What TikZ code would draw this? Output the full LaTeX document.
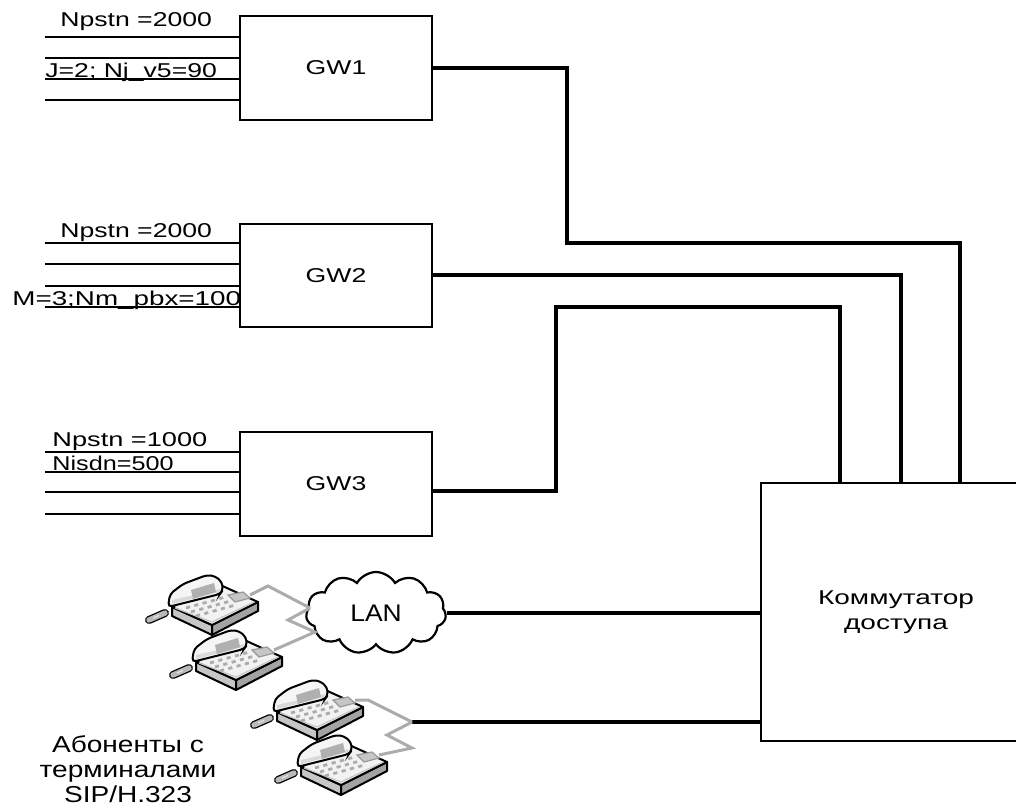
\documentclass[tikz,border=0pt]{standalone}
\usepackage{fontspec}
\setmainfont{Liberation Sans}
\usepackage{graphicx}
\usetikzlibrary{shapes.symbols}

\newcommand{\wtext}[2][1.33]{\scalebox{#1}[1]{#2}}

\tikzset{
  telset/.pic={
    % cord
    \draw[line width=4pt, line cap=round] (-23,13) -- (-7,6);
    \draw[line width=2.7pt, gray!55, line cap=round] (-23,13) -- (-7,6);
    \draw[line width=0.6pt, gray!20] (-19,11) -- (-13,8.4);
    % body
    \filldraw[fill=gray!45, line width=1pt, line join=round] (0,0) -- (40,18) -- (40,28) -- (0,9) -- cycle;
    \filldraw[fill=gray!72, line width=1pt, line join=round] (40,18) -- (86,-5) -- (86,4) -- (40,28) -- cycle;
    \filldraw[fill=gray!10, line width=1pt, line join=round] (0,0) -- (46,-23) -- (86,-5) -- (40,18) -- cycle;
    \draw[gray!45, line width=0.6pt] (3,1) -- (40,15) -- (82,-5);
    % keys and display
    \foreach \i in {0,...,4}
      \foreach \j in {0,1,2}
        \draw[gray!65, line width=1.4pt] (\i*8.3+\j*5+14,-2.3*\i+4*\j+1) -- ++(4,-1.2);
    \filldraw[fill=gray!45, draw=gray!80, line width=0.6pt] (56,-12) -- (71,-15) -- (78,-9) -- (63,-5) -- cycle;
    % handset
    \filldraw[fill=gray!8, line width=1pt, rounded corners=2pt] (-4,0) -- (-2,-13) -- (11,-23) -- (35,-32) -- (43,-31) -- (50,-25) -- (51,-17) -- (48,-13) -- cycle;
    \fill[gray!30] (0,-3) -- (47,-15) -- (48,-18) -- (0,-7) -- cycle;
    \fill[gray!62] (19,-17) -- (42,-24) -- (44,-15) -- (21,-8) -- cycle;
    \coordinate (-jack) at (78,-12);
  }
}

\begin{document}
\begin{tikzpicture}[x=0.5pt, y=-0.5pt,
    box/.style={draw, line width=0.7pt, minimum width=96pt, minimum height=52pt, inner sep=0pt, font=\fontsize{10}{12}\selectfont},
    feed/.style={line width=0.7pt},
    trunk/.style={line width=2pt},
    cable/.style={line width=1.5pt, gray!65},
    lbl/.style={inner sep=0pt, font=\fontsize{10}{12}\selectfont}]

  \useasboundingbox (0,0) rectangle (1016,807);
  \clip (0,0) rectangle (1016,807);

  % gateways
  \node[box] (gw1) at (336,68) {\wtext{GW1}};
  \node[box, minimum height=51.5pt] (gw2) at (336,275.5) {\wtext{GW2}};
  \node[box] (gw3) at (336,484) {\wtext{GW3}};

  % subscriber lines
  \foreach \y in {37,58,79,100}
    \draw[feed] (45,\y) -- (gw1.west |- 0,\y);
  \foreach \y in {243,264,286,307}
    \draw[feed] (45,\y) -- (gw2.west |- 0,\y);
  \foreach \y in {452,472,492,514}
    \draw[feed] (45,\y) -- (gw3.west |- 0,\y);

  \node[lbl, anchor=base west] (l1a) at (60,27) {\wtext{Npstn =2000}};
  \node[lbl, anchor=base west] (l1b) at (45,78) {\wtext{J=2; Nj\_v5=90}};
  \node[lbl, anchor=base west] (l2a) at (60,238) {\wtext{Npstn =2000}};
  \node[lbl, anchor=base west] (l2b) at (12,306) {\wtext[1.39]{M=3;Nm\_pbx=100}};
  \node[lbl, anchor=base west] (l3a) at (52,446) {\wtext[1.36]{Npstn =1000}};
  \node[lbl, anchor=base west] (l3b) at (52,470) {\wtext[1.26]{Nisdn=500}};

  % access switch
  \node[draw, line width=0.7pt, minimum width=135pt, minimum height=129pt, inner sep=0pt,
        align=center, font=\fontsize{10}{12.5}\selectfont] (sw) at (896,612)
        {\wtext[1.4]{Коммутатор}\\\wtext[1.4]{доступа}};

  % trunks
  \draw[trunk] (gw1.east) -| (567,243) -| (960,0 |- sw.north);
  \draw[trunk] (gw2.east) -| (901,0 |- sw.north);
  \draw[trunk] ([yshift=-3.5pt]gw3.east) -| (556,307) -| (840,0 |- sw.north);

  % LAN
  \node[cloud, draw, line width=1.1pt, cloud puffs=11, cloud puff arc=120, aspect=1.7,
        minimum width=70pt, minimum height=41pt, inner sep=0pt,
        font=\fontsize{12}{14}\selectfont] (lan) at (376,613) {\wtext[1.1]{LAN}};
  \draw[trunk] (lan.east) -- (lan.east -| sw.west);

  \coordinate (j1) at (310,608);
  \coordinate (j2) at (412,722);
  \draw[trunk] (j2) -- (j2 -| sw.west);

  % terminals
  \pic (t1) at (172,607) {telset};
  \pic (t2) at (196,662) {telset};
  \pic (t3) at (277,712) {telset};
  \pic (t4) at (301,767) {telset};

  \draw[cable] (t1-jack) -- (268,586) -- (j1);
  \draw[cable] (j1) -- (288,620) -- (315,632) -- (t2-jack);
  \draw[cable] (t3-jack) -- (368,700) -- (j2);
  \draw[cable] (j2) -- (387,735) -- (412,748) -- (t4-jack);

  \node[lbl, align=center, font=\fontsize{11.5}{12.5}\selectfont] (subs) at (128,769)
    {\wtext[1.22]{Абоненты с}\\\wtext[1.22]{терминалами}\\\wtext[1.22]{SIP/H.323}};
\end{tikzpicture}
\end{document}
